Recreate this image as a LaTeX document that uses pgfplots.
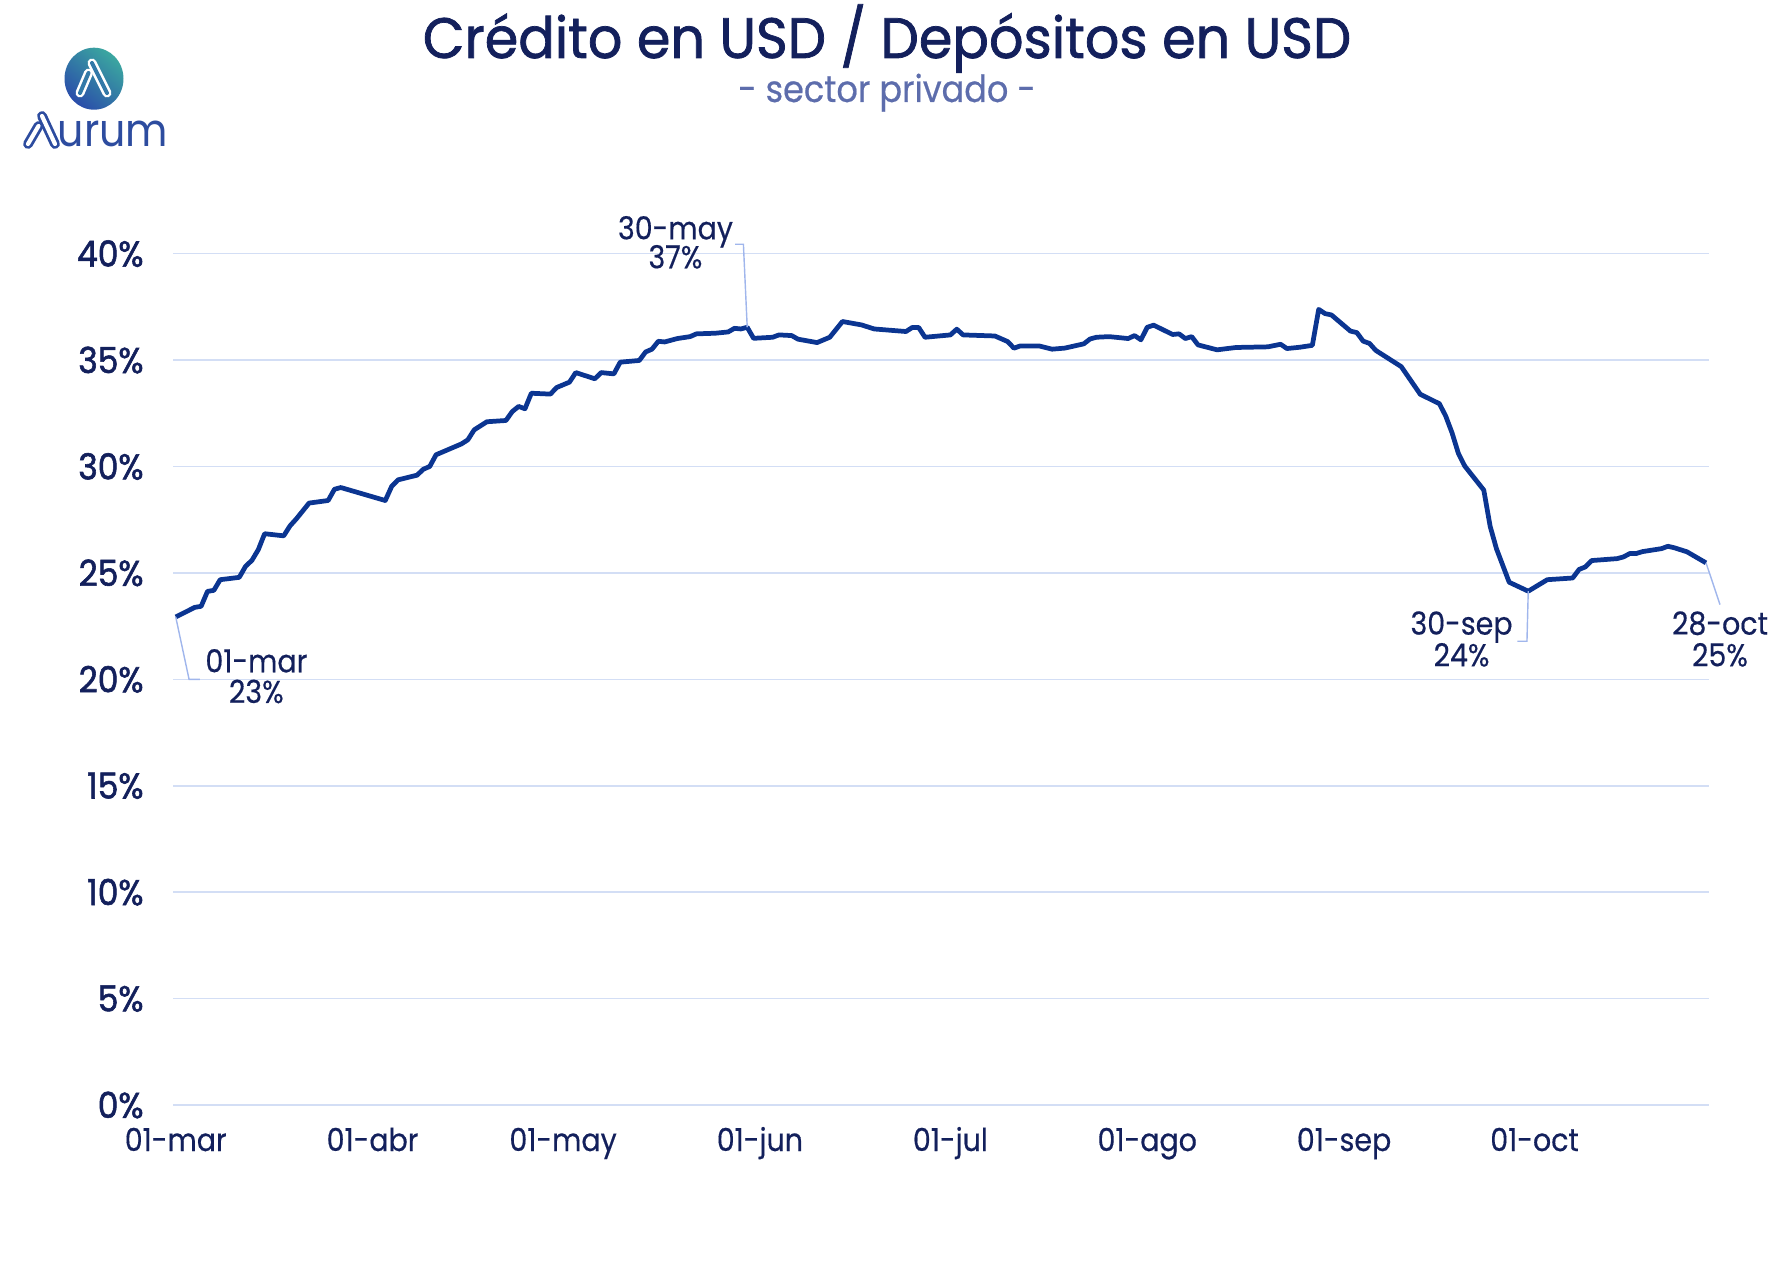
\documentclass[border=0pt]{standalone}
\usepackage{fontspec}
\usepackage{pgfplots}
\pgfplotsset{compat=1.18}
\setmainfont{Poppins}
\newfontfamily\tfont{Poppins}[FakeStretch=0.95, FakeBold=1.3]
\newfontfamily\sfont{Poppins}[FakeStretch=0.9, FakeBold=0.5]
\newfontfamily\ufont{Poppins}[FakeStretch=0.9]
\newfontfamily\yfontf{Poppins}[FakeStretch=0.92, FakeBold=1.6]
\newfontfamily\lfont{Poppins}[FakeStretch=0.9, FakeBold=0.4]
\definecolor{navy}{HTML}{13205C}
\definecolor{linec}{HTML}{0B3591}
\definecolor{gridc}{HTML}{D3DEF5}
\definecolor{leadc}{HTML}{A0B6EC}
\definecolor{subc}{HTML}{5D6DAC}
\definecolor{logoblue}{HTML}{2D4C9F}
\definecolor{teal1}{HTML}{3BA7A0}
\definecolor{blue1}{HTML}{2A4DAA}
\definecolor{midc}{HTML}{3379A8}

\pgfplotstableread{
day val
0 22.93
3 23.38
4 23.43
5 24.13
6 24.18
7 24.68
10 24.79
11 25.31
12 25.59
13 26.09
14 26.84
17 26.74
18 27.21
19 27.54
21 28.28
24 28.40
25 28.93
26 29.01
33 28.40
34 29.06
35 29.37
38 29.59
39 29.87
40 30.00
41 30.55
45 31.06
46 31.25
47 31.72
49 32.10
52 32.16
53 32.58
54 32.82
55 32.71
56 33.44
59 33.40
60 33.71
62 33.96
63 34.41
66 34.12
67 34.41
69 34.35
70 34.90
73 34.98
74 35.38
75 35.51
76 35.88
77 35.85
79 36.01
81 36.10
82 36.23
85 36.26
87 36.32
88 36.49
89 36.46
90 36.54
91 36.02
94 36.07
95 36.18
97 36.15
98 35.98
101 35.82
103 36.07
105 36.81
108 36.65
110 36.46
115 36.34
116 36.53
117 36.53
118 36.07
122 36.18
123 36.45
124 36.18
129 36.13
131 35.87
132 35.56
133 35.66
136 35.66
138 35.51
140 35.56
143 35.76
144 35.99
145 36.07
147 36.10
150 36.01
151 36.15
152 35.95
153 36.54
154 36.64
157 36.20
158 36.23
159 36.01
160 36.10
161 35.71
164 35.48
167 35.59
172 35.62
174 35.74
175 35.54
177 35.60
179 35.69
180 37.38
181 37.18
182 37.12
185 36.36
186 36.29
187 35.89
188 35.78
189 35.45
193 34.69
196 33.39
199 32.95
200 32.37
201 31.58
202 30.61
203 30.02
206 28.89
207 27.19
208 26.13
210 24.56
213 24.14
216 24.68
220 24.76
221 25.16
222 25.28
223 25.58
227 25.67
228 25.75
229 25.91
230 25.91
231 26.00
234 26.14
235 26.25
236 26.18
238 25.99
241 25.47
}\ratio

\begin{document}
\begin{tikzpicture}
\path (0,0) rectangle (177.5mm,-128.8mm);
\begin{scope}[x=0.1mm,y=-0.1mm]
% logo
\shade[top color=teal1, bottom color=blue1, shading angle=-40] (94,78.7) ellipse [x radius=2.95mm, y radius=3.1mm];
\draw[white, double=midc, line width=0.25mm, double distance=0.4mm, line cap=round] (92,63) -- (107,93);
\draw[white, double=midc, line width=0.25mm, double distance=0.4mm, line cap=round] (88.5,73) -- (80,93);
\draw[logoblue, double=white, line width=0.28mm, double distance=0.42mm, line cap=round] (42,116) -- (55,144);
\draw[logoblue, double=white, line width=0.28mm, double distance=0.42mm, line cap=round] (38.5,126) -- (28,144);
\node[anchor=base west, inner sep=0pt, text=logoblue, font=\ufont\fontsize{13}{16}\selectfont] at (57,147) {urum};
% titles
\node[anchor=base, inner sep=0pt, text=navy, font=\tfont\fontsize{16.2}{19}\selectfont] at (887,58) {Crédito en USD / Depósitos en USD};
\node[anchor=base, inner sep=0pt, text=subc, font=\sfont\fontsize{10.6}{13}\selectfont] at (887,102) {- sector privado -};
\end{scope}
\begin{axis}[
 at={(17.32mm,-110.5mm)}, anchor=south west,
 scale only axis, width=153.6mm, height=85.14mm,
 xmin=-0.4, xmax=241.5, ymin=0, ymax=40,
 axis line style={draw=none},
 major tick length=0pt,
 ymajorgrids, grid style={gridc, line width=0.45pt},
 ytick={0,5,...,40},
 yticklabels={0\%,5\%,10\%,15\%,20\%,25\%,30\%,35\%,40\%},
 xtick={0,31,61,92,122,153,184,214},
 xticklabels={01-mar,01-abr,01-may,01-jun,01-jul,01-ago,01-sep,01-oct},
 yticklabel style={font=\yfontf\fontsize{10.2}{12}\selectfont, text=navy, anchor=east, inner sep=0pt, xshift=-2.9mm},
 xticklabel style={font=\lfont\fontsize{9}{11}\selectfont, text=navy, anchor=base, inner sep=0pt, yshift=-4.6mm},
 clip=false,
]
\addplot[linec, line width=1.35pt, line join=round] table[x=day, y=val] {\ratio};
\draw[leadc, line width=0.4pt] (axis cs:0,22.93) -- (axis cs:2.1,20.0) -- (axis cs:3.8,20.0);
\draw[leadc, line width=0.4pt] (axis cs:90,36.54) -- (axis cs:89.4,40.44) -- (axis cs:88.1,40.44);
\draw[leadc, line width=0.4pt] (axis cs:213,24.14) -- (axis cs:212.8,21.79) -- (axis cs:211.3,21.79);
\draw[leadc, line width=0.4pt] (axis cs:241,25.47) -- (axis cs:243.2,23.51);
\begin{scope}[every node/.style={anchor=base, inner sep=0pt, text=navy, font=\lfont\fontsize{9}{11}\selectfont}]
\node at (axis cs:12.7,20.33) {01-mar};
\node at (axis cs:12.7,18.89) {23\%};
\node at (axis cs:78.7,40.67) {30-may};
\node at (axis cs:78.7,39.31) {37\%};
\node at (axis cs:202.5,22.10) {30-sep};
\node at (axis cs:202.5,20.61) {24\%};
\node at (axis cs:243.2,22.10) {28-oct};
\node at (axis cs:243.2,20.61) {25\%};
\end{scope}
\end{axis}
\end{tikzpicture}
\end{document}
